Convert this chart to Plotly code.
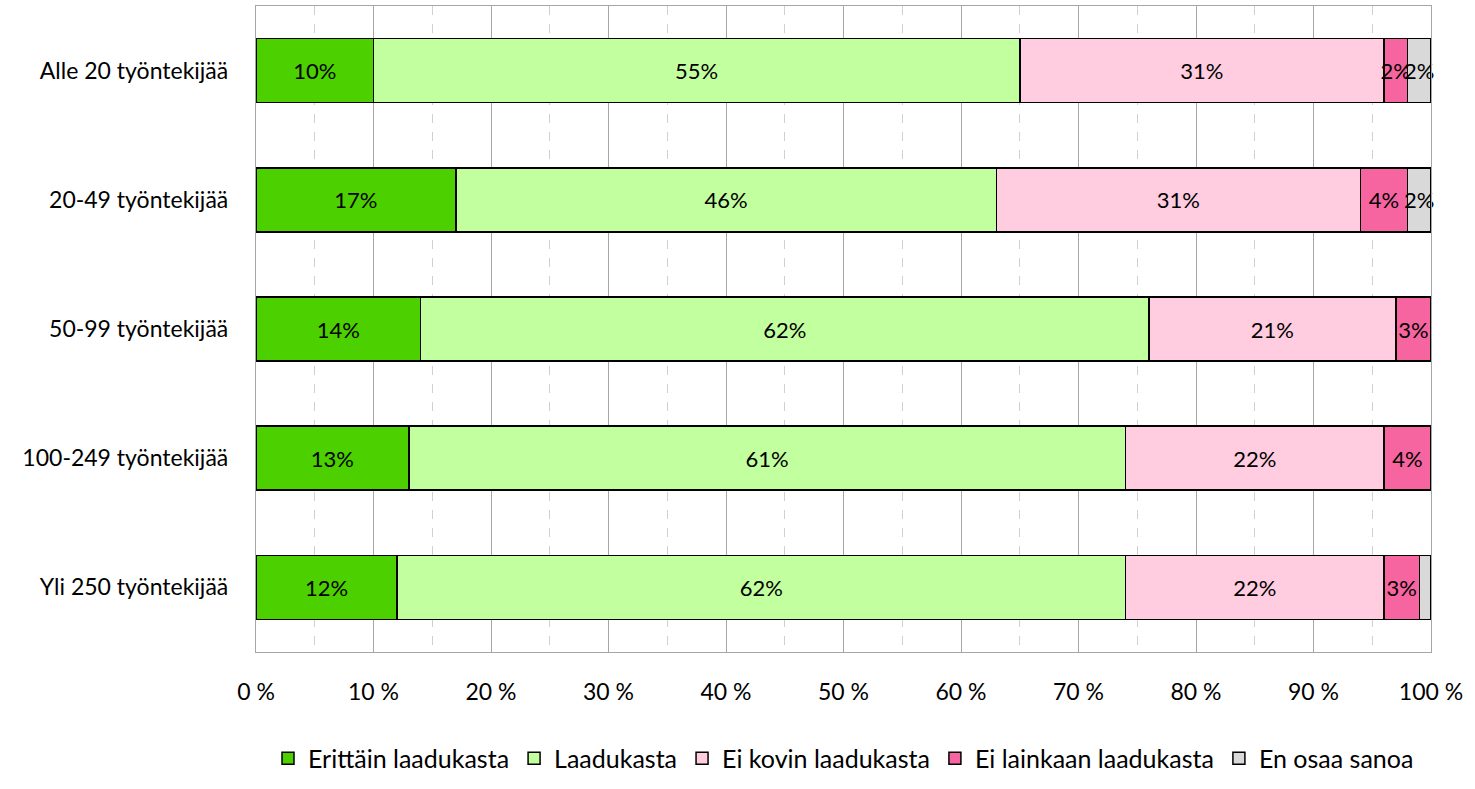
import plotly.graph_objects as go

categories = ["Alle 20 työntekijää", "20-49 työntekijää", "50-99 työntekijää",
              "100-249 työntekijää", "Yli 250 työntekijää"]
series_names = ["Erittäin laadukasta", "Laadukasta", "Ei kovin laadukasta",
                "Ei lainkaan laadukasta", "En osaa sanoa"]
erittain = [10, 17, 14, 13, 12]
laadukasta = [55, 46, 62, 61, 62]
ei_kovin = [31, 31, 21, 22, 22]
ei_lainkaan = [2, 4, 3, 4, 3]
en_osaa = [2, 2, 0, 0, 1]
series_values = [erittain, laadukasta, ei_kovin, ei_lainkaan, en_osaa]
colors = ["#4CD000", "#C2FF9F", "#FFCCE0", "#F765A0", "#D9D9D9"]
x_ticks = list(range(0, 101, 10))
x_ticktext = [f"{v} %" for v in x_ticks]

FONT = "Lato"

fig = go.Figure()
for name, vals, col in zip(series_names, series_values, colors):
    texts = [f"{v}%" if v >= 2 else "" for v in vals]
    fig.add_trace(go.Bar(
        y=categories, x=vals, name=name, orientation="h",
        marker=dict(color=col, line=dict(color="black", width=1.5)),
        text=texts, textposition="inside", insidetextanchor="middle",
        textangle=0, constraintext="none", cliponaxis=False,
        textfont=dict(family=FONT, size=22, color="black"),
        hoverinfo="x+y+name",
    ))

fig.update_layout(
    barmode="stack",
    bargap=0.505,
    width=1475, height=789,
    margin=dict(l=256, r=44, t=6, b=137, autoexpand=False),
    paper_bgcolor="white", plot_bgcolor="white",
    font=dict(family=FONT, size=23, color="black"),
    xaxis=dict(
        range=[0, 100], tickmode="array", tickvals=x_ticks, ticktext=x_ticktext,
        showgrid=True, gridcolor="#A6A6A6", gridwidth=1.3,
        minor=dict(dtick=5, showgrid=True, gridcolor="#D0D0D0", griddash="dash", gridwidth=1.3),
        showline=True, linecolor="#A6A6A6", linewidth=1.3, mirror=True,
        zeroline=False, ticks="", ticklabelstandoff=19,
        tickfont=dict(family=FONT, size=23),
    ),
    yaxis=dict(
        categoryorder="array", categoryarray=categories, autorange="reversed",
        showgrid=False, showline=True, linecolor="#A6A6A6", linewidth=1.3, mirror=True,
        ticks="", ticklabelstandoff=22,
        tickfont=dict(family=FONT, size=23),
    ),
    legend=dict(
        orientation="h", x=0.5, xanchor="center", y=-0.165, yanchor="middle",
        font=dict(family=FONT, size=25), itemwidth=30, traceorder="normal",
        bgcolor="rgba(0,0,0,0)",
    ),
    showlegend=True,
)

fig.write_html("out.html", config={"displayModeBar": False},
               post_script="document.body.style.margin='0px';")
